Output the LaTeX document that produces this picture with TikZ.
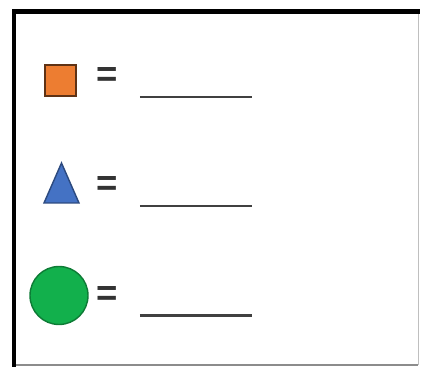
\documentclass[tikz,border=0pt]{standalone}
\usepackage{fontspec}
\setmainfont{Liberation Sans}
\usepackage{xcolor}
\usetikzlibrary{positioning}

\definecolor{keyorange}{HTML}{ED7D31}
\definecolor{keyblue}{HTML}{4472C4}
\definecolor{keygreen}{HTML}{12B04C}

\begin{document}
\begin{tikzpicture}[x=0.025cm, y=-0.025cm,
  eq/.style={font=\fontsize{26}{26}\selectfont\bfseries, inner sep=0pt, text=black!80},
  blank/.style={line width=2pt, black!75},
  sym/.style={line width=1pt},
]
\useasboundingbox (0,0) rectangle (424,367);
% frame
\draw[line width=0.6pt, black!25] (418,11.5) -- (418,365);
\draw[line width=1pt, black!45] (418,365) -- (14,365);
\draw[line width=3pt, line cap=rect] (14,365) -- (14,11.5) -- (418,11.5);
% key symbols
\node[sym, draw=black!60!keyorange, fill=keyorange, minimum size=31*0.025cm,
      inner sep=0pt] (sq) at (60.5,80.5) {};
\filldraw[sym, draw=keyblue!65!black, fill=keyblue]
  (44,203) -- (61.5,163) -- (79,203) -- cycle;
\coordinate (tri) at (61.5,186);
\node[sym, circle, draw=keygreen!70!black, fill=keygreen, minimum size=58*0.025cm,
      inner sep=0pt] (circ) at (59,295.5) {};
% equals signs
\node[eq] (eqA) at (107.5,77) {=};
\node[eq] (eqB) at (107.5,186) {=};
\node[eq] (eqC) at (107.5,296) {=};
% blanks
\draw[blank] (140,97) -- (252,97);
\draw[blank] (140,206) -- (252,206);
\draw[blank] (140,315.5) -- (252,315.5);
\end{tikzpicture}
\end{document}
